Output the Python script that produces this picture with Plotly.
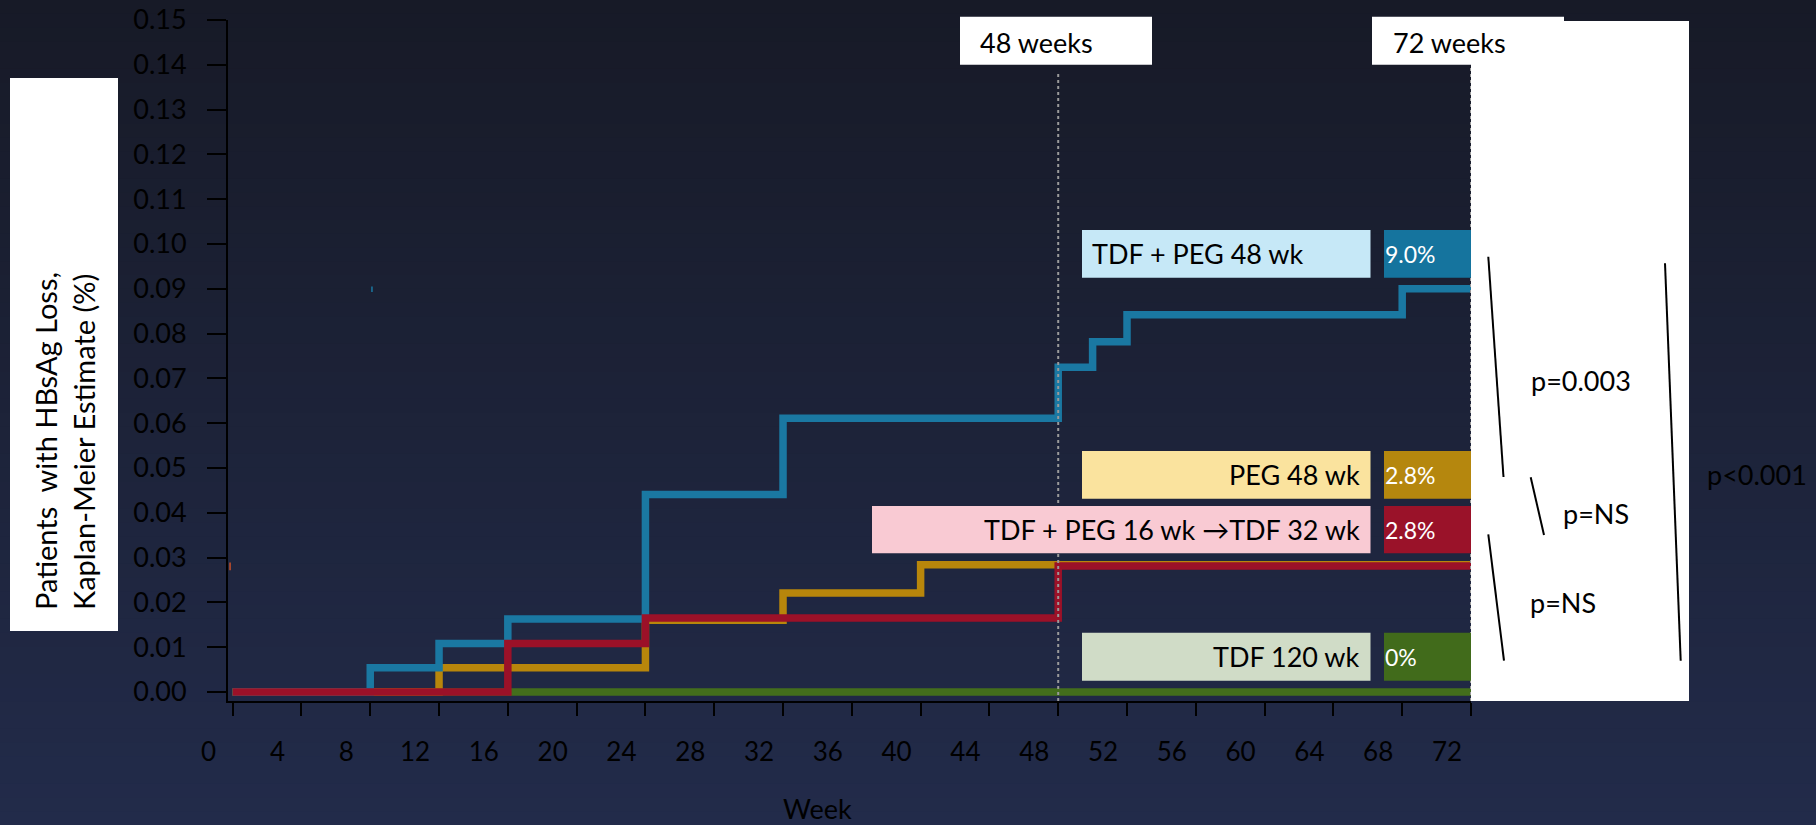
import plotly.graph_objects as go

# ---------------- data ----------------
weeks_tdf_peg48 = [0, 8, 12, 16, 24, 32, 48, 50, 52, 68, 72]
km_tdf_peg48 = [0, 0.0054, 0.0108, 0.0163, 0.0441, 0.0611, 0.0725, 0.0782, 0.0842, 0.0900, 0.0900]

weeks_peg48 = [0, 12, 24, 32, 40, 72]
km_peg48 = [0, 0.0054, 0.0160, 0.0221, 0.0284, 0.0284]

weeks_tdf_peg16 = [0, 16, 24, 48, 72]
km_tdf_peg16 = [0, 0.0108, 0.0165, 0.0281, 0.0281]

weeks_tdf120 = [0, 72]
km_tdf120 = [0, 0]

arm_labels = ["TDF + PEG 48 wk", "PEG 48 wk", "TDF + PEG 16 wk \u2192TDF 32 wk", "TDF 120 wk"]
arm_rates = ["9.0%", "2.8%", "2.8%", "0%"]
x_ticks = list(range(0, 73, 4))
y_ticks = [i / 100 for i in range(0, 16)]
p_values = ["p=0.003", "p=NS", "p=NS", "p<0.001"]

# ---------------- layout helpers ----------------
W, H = 1816, 825
L, R, T, B = 228, 1471, 20, 701
FONT = "Lato"


def fx(x):
    return (x - L) / (R - L)


def fy(y):
    return (B - y) / (B - T)


def rect(x0, y0, x1, y1, color, layer="above"):
    return dict(type="rect", xref="paper", yref="paper", x0=fx(x0), x1=fx(x1),
                y0=fy(y1), y1=fy(y0), fillcolor=color, line=dict(width=0), layer=layer)


def seg(x0, y0, x1, y1, color="black", width=2):
    return dict(type="line", xref="paper", yref="paper", x0=fx(x0), x1=fx(x1),
                y0=fy(y0), y1=fy(y1), line=dict(color=color, width=width), layer="above")


def text(s, x, y, size=27, color="black", xanchor="left", yanchor="middle", **kw):
    return dict(text=s, x=fx(x), y=fy(y), xref="paper", yref="paper", showarrow=False,
                xanchor=xanchor, yanchor=yanchor, font=dict(family=FONT, size=size, color=color), **kw)


shapes = []
# vertical gradient background
top = (0x17, 0x1A, 0x27)
bot = (0x22, 0x2B, 0x4A)
N = 60
for i in range(N):
    t = i / (N - 1)
    c = tuple(round(top[k] + (bot[k] - top[k]) * t) for k in range(3))
    y0 = H * i / N
    y1 = H * (i + 1) / N + 1
    shapes.append(rect(-5, y0, W + 5, y1, "rgb(%d,%d,%d)" % c, layer="below"))

# y title box
shapes.append(rect(10, 78, 118, 631, "white"))
# week boxes
shapes.append(rect(960, 16.7, 1152, 64.7, "white"))
shapes.append(rect(1372, 16.7, 1564, 64.7, "white"))
# big white panel on right
shapes.append(rect(1471, 21, 1689, 701, "white"))

# dotted reference lines at week 48 / 72
for wk, ytop in [(48, 73), (72, 65)]:
    shapes.append(dict(type="line", xref="x", yref="paper", x0=wk, x1=wk, y0=0, y1=fy(ytop),
                       line=dict(color="#9a9a9a", width=2, dash="dot"), layer="above"))

# tiny stray marks visible in the original
shapes.append(dict(type="line", xref="x", yref="y", x0=8.1, x1=8.1, y0=0.0893, y1=0.0905,
                   line=dict(color="#1A78A2", width=1.5), layer="above"))
shapes.append(dict(type="line", xref="x", yref="y", x0=-0.15, x1=-0.15, y0=0.0272, y1=0.0289,
                   line=dict(color="#C8502A", width=1.5), layer="above"))

# label boxes
light = ["#C6E8F7", "#FAE39E", "#F9CAD3", "#D0DCC7"]
dark = ["#15749E", "#B5870E", "#9A1229", "#416B1B"]
box_rows = [(230, 277.7, 1082), (451, 498.7, 1082), (506, 553.3, 872), (632.7, 680.7, 1082)]
for (y0, y1, xl), lc, dc in zip(box_rows, light, dark):
    shapes.append(rect(xl, y0, 1370.5, y1, lc))
    shapes.append(rect(1384, y0, 1471, y1, dc))

# bracket lines
shapes.append(seg(1488.3, 256.7, 1503.5, 477))
shapes.append(seg(1530.7, 477.3, 1544, 535))
shapes.append(seg(1488.3, 534.3, 1504, 660.7))
shapes.append(seg(1665, 263.3, 1680.7, 660.7))

annotations = []
annotations.append(text("Patients\u00a0 with HBsAg Loss,<br>Kaplan-Meier Estimate (%)", 64, 612,
                        size=29, xanchor="center", yanchor="bottom", textangle=-90, align="left"))
annotations.append(text("48 weeks", 978, 42.7))
annotations.append(text("72 weeks", 1391, 42.7))
annotations.append(text("Week", 817, 808, xanchor="center"))

# arm labels
label_rows = [(253.8, "left", 1090), (474.8, "right", 1362), (529.6, "right", 1362), (656.7, "right", 1362)]
for (yc, anchor, xt), lab, rate in zip(label_rows, arm_labels, arm_rates):
    annotations.append(text(lab, xt, yc, xanchor=anchor))
    annotations.append(text(rate, 1383, yc, size=23, color="white"))

# p values
p_pos = [(1581, 380, "center"), (1596, 513, "center"), (1563, 602.5, "center"), (1757, 474, "center")]
for (x, y, a), p in zip(p_pos, p_values):
    annotations.append(text(p, x, y, xanchor=a))

fig = go.Figure()
series = [
    (weeks_tdf120, km_tdf120, "#436E1C", "TDF 120 wk"),
    (weeks_peg48, km_peg48, "#B8860B", "PEG 48 wk"),
    (weeks_tdf_peg48, km_tdf_peg48, "#1A78A2", "TDF + PEG 48 wk"),
    (weeks_tdf_peg16, km_tdf_peg16, "#9B1128", "TDF + PEG 16 wk \u2192TDF 32 wk"),
]
for xs, ys, col, name in series:
    fig.add_trace(go.Scatter(x=xs, y=ys, mode="lines", name=name,
                             line=dict(color=col, width=7.5, shape="hv"), cliponaxis=False))

fig.update_layout(
    width=W, height=H,
    margin=dict(l=L, r=W - R, t=T, b=H - B, pad=0, autoexpand=False),
    paper_bgcolor="#1c2135",
    plot_bgcolor="rgba(0,0,0,0)",
    showlegend=False,
    shapes=shapes,
    annotations=annotations,
    font=dict(family=FONT, color="black"),
    xaxis=dict(range=[-0.27, 72], tickvals=x_ticks, ticks="outside", ticklen=13, tickwidth=2,
               tickcolor="black", showline=True, linecolor="black", linewidth=2,
               showgrid=False, zeroline=False, tickfont=dict(family=FONT, size=26, color="black"),
               ticklabelshift=-24, ticklabelstandoff=14, automargin=False),
    yaxis=dict(range=[-0.00201, 0.15], tickvals=y_ticks, tickformat=".2f", ticks="outside",
               ticklen=19, tickwidth=2, tickcolor="black", showline=True, linecolor="black",
               linewidth=2, showgrid=False, zeroline=False,
               tickfont=dict(family=FONT, size=27, color="black"), ticklabelstandoff=15,
               automargin=False),
)

fig.write_html("out.html", config={"responsive": False, "displayModeBar": False},
               post_script="document.body.style.margin='0';document.body.style.padding='0';"
                           "document.body.style.overflow='hidden';")
